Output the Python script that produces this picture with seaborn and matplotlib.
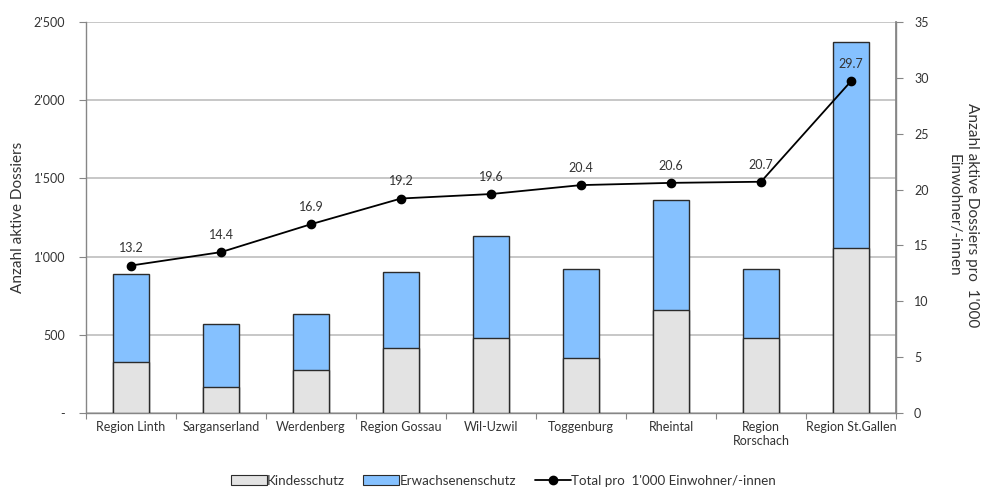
import matplotlib
matplotlib.use("Agg")
import matplotlib.pyplot as plt
import seaborn as sns
import pandas as pd
from matplotlib.patches import Patch
from matplotlib.lines import Line2D
from matplotlib.ticker import FuncFormatter, FixedLocator

regions = ["Region Linth", "Sarganserland", "Werdenberg", "Region Gossau", "Wil-Uzwil",
           "Toggenburg", "Rheintal", "Region\nRorschach", "Region St.Gallen"]
kindesschutz = [325, 165, 278, 415, 482, 352, 657, 478, 1053]
erwachsenenschutz = [565, 402, 352, 488, 650, 567, 705, 445, 1317]
total_pro_1000 = [13.2, 14.4, 16.9, 19.2, 19.6, 20.4, 20.6, 20.7, 29.7]

sns.set_theme(style="white")
plt.rcParams['font.family'] = ['Lato', 'DejaVu Sans']

df = pd.DataFrame({
    "Region": regions,
    "Kindesschutz": kindesschutz,
    "Erwachsenenschutz": erwachsenenschutz,
    "Rate": total_pro_1000,
})
df["Total"] = df["Kindesschutz"] + df["Erwachsenenschutz"]

c_kind = "#E3E3E3"
c_erw = "#85C1FF"
edge = "#2b2b2b"
axcol = "#868686"
gridcol = "#BEBEBE"

fig = plt.figure(figsize=(9.83, 4.87), dpi=100)
ax = fig.add_axes([86/983, 1-413/487, 810/983, 391/487])

sns.barplot(data=df, x="Region", y="Total", order=regions, color=c_erw, width=0.4,
            edgecolor=edge, linewidth=1.0, saturation=1, ax=ax, zorder=3)
sns.barplot(data=df, x="Region", y="Kindesschutz", order=regions, color=c_kind, width=0.4,
            edgecolor=edge, linewidth=1.0, saturation=1, ax=ax, zorder=3)

ax.set_ylim(0, 2500)
ax.set_xlim(-0.5, len(regions) - 0.5)
ax.set_yticks([0, 500, 1000, 1500, 2000, 2500])

def fmt(v, pos):
    if v == 0:
        return "-"
    return f"{int(v):,}".replace(",", "'")
ax.yaxis.set_major_formatter(FuncFormatter(fmt))
ax.yaxis.grid(True, color=gridcol, linewidth=1.2, zorder=0)
ax.set_axisbelow(True)
ax.set_xlabel("")
ax.set_ylabel("Anzahl aktive Dossiers", fontsize=11, color="#333333", labelpad=6)
ax.tick_params(axis="y", which="major", length=5, width=0.8, color=axcol, direction="out",
               labelsize=9, labelcolor="#333333", left=True, pad=10)
ax.tick_params(axis="x", which="major", length=0, labelsize=9, labelcolor="#333333", pad=6)
ax.xaxis.set_minor_locator(FixedLocator([i - 0.5 for i in range(len(regions) + 1)]))
ax.tick_params(axis="x", which="minor", length=4, width=0.8, color=axcol, direction="out", bottom=True)
ax.spines["top"].set_visible(False)
for s in ["left", "bottom", "right"]:
    ax.spines[s].set_color(axcol)
    ax.spines[s].set_linewidth(1.0)

ax2 = ax.twinx()
sns.pointplot(data=df, x="Region", y="Rate", order=regions, color="black", markers="o",
              markersize=6, linewidth=1.3, ax=ax2)
ax2.set_xlim(-0.5, len(regions) - 0.5)
ax2.set_ylim(0, 35)
ax2.set_yticks(range(0, 36, 5))
ax2.set_ylabel("")
ax2.tick_params(axis="y", length=5, width=0.8, color=axcol, direction="out",
                labelsize=9, labelcolor="#333333", right=True, pad=8)
ax2.set_xlabel("")
for s in ["top", "left", "bottom"]:
    ax2.spines[s].set_visible(False)
ax2.spines["right"].set_color(axcol)
for i, v in enumerate(total_pro_1000):
    ax2.annotate(f"{v:.1f}", (i, v), xytext=(0, 8), textcoords="offset points",
                 ha="center", va="bottom", fontsize=9, color="#333333")

fig.text(963/983, 1-215/487, "Anzahl aktive Dossiers pro  1'000\nEinwohner/-innen",
         rotation=-90, ha="center", va="center", multialignment="center",
         fontsize=11, color="#333333", linespacing=1.35)

handles = [
    Patch(facecolor=c_kind, edgecolor=edge, linewidth=0.8, label="Kindesschutz"),
    Patch(facecolor=c_erw, edgecolor=edge, linewidth=0.8, label="Erwachsenenschutz"),
    Line2D([0], [0], color="black", marker="o", markersize=6, linewidth=1.3,
           label="Total pro  1'000 Einwohner/-innen"),
]
fig.legend(handles=handles, loc="center", bbox_to_anchor=(503/983, 1-481/487), ncol=3,
           frameon=False, fontsize=9.6, handlelength=2.7, handleheight=0.8,
           handletextpad=0.0, columnspacing=1.4, labelcolor="#333333")

fig.savefig("out.png", dpi=100)
